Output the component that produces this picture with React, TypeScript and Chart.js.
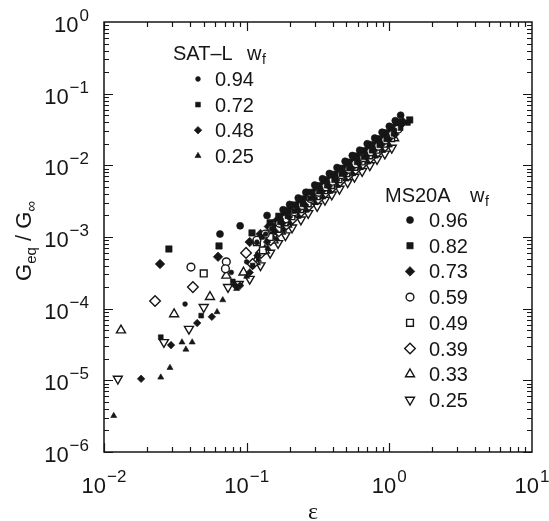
import React, { useEffect, useRef } from "react";
import { Chart, registerables } from "chart.js";
import { drawPoint } from "chart.js/helpers";

Chart.register(...registerables);

type P = [number, number];

// ---- SAT-L series (x = strain, y = Geq/Ginf) ----
const satL094: P[] = [
  [0.037, 1.16e-4], [0.078, 3.2e-4], [0.1, 4.5e-4], [0.118, 8.5e-4], [0.136, 1.1e-3],
  [0.155, 1.45e-3], [0.175, 1.75e-3], [0.195, 2.05e-3], [0.225, 2.6e-3], [0.25, 3.1e-3],
  [0.29, 3.9e-3], [0.33, 4.8e-3], [0.37, 5.8e-3], [0.42, 6.9e-3], [0.47, 8.4e-3],
  [0.53, 1.0e-2], [0.6, 1.2e-2], [0.68, 1.45e-2], [0.77, 1.75e-2], [0.86, 2.1e-2],
  [0.97, 2.55e-2], [1.09, 3.1e-2], [1.22, 3.7e-2],
];
const satL072: P[] = [
  [0.025, 4.0e-5], [0.048, 8.0e-5], [0.08, 2.4e-4], [0.11, 4.0e-4], [0.128, 1.0e-3],
  [0.15, 1.3e-3], [0.171, 1.6e-3], [0.193, 1.95e-3], [0.214, 2.3e-3], [0.246, 2.85e-3],
  [0.278, 3.45e-3], [0.32, 4.3e-3], [0.364, 5.2e-3], [0.41, 6.2e-3], [0.46, 7.5e-3],
  [0.52, 9.0e-3], [0.59, 1.1e-2], [0.66, 1.3e-2], [0.75, 1.6e-2], [0.85, 1.9e-2],
  [0.95, 2.3e-2], [1.07, 2.75e-2], [1.2, 3.3e-2], [1.35, 3.9e-2],
];
const satL048: P[] = [
  [0.0182, 1.05e-5], [0.0295, 3.1e-5], [0.045, 6.3e-5], [0.057, 7.7e-5], [0.083, 2.1e-4],
  [0.09, 2.1e-4], [0.105, 3.2e-4], [0.119, 5.5e-4], [0.139, 8.5e-4], [0.158, 1.2e-3],
  [0.178, 1.55e-3], [0.198, 1.9e-3], [0.228, 2.35e-3], [0.257, 2.8e-3], [0.297, 3.5e-3],
  [0.337, 4.3e-3], [0.376, 5.1e-3], [0.426, 6.2e-3], [0.485, 7.6e-3], [0.545, 9.1e-3],
  [0.61, 1.08e-2], [0.69, 1.32e-2], [0.78, 1.6e-2], [0.88, 1.93e-2], [0.99, 2.3e-2],
  [1.1, 2.7e-2],
];
const satL025: P[] = [
  [0.0117, 3.2e-6], [0.025, 1.1e-5], [0.029, 1.5e-5], [0.0352, 3.4e-5], [0.0375, 2.7e-5],
  [0.0415, 3.4e-5], [0.062, 9.0e-5], [0.068, 1.32e-4], [0.085, 1.9e-4], [0.1, 2.8e-4],
  [0.121, 4.8e-4], [0.141, 7.0e-4], [0.162, 9.5e-4], [0.182, 1.25e-3], [0.202, 1.55e-3],
  [0.232, 1.95e-3], [0.263, 2.37e-3], [0.303, 3.0e-3], [0.343, 3.6e-3], [0.384, 4.3e-3],
  [0.434, 5.2e-3], [0.495, 6.4e-3], [0.555, 7.6e-3], [0.626, 9.2e-3], [0.707, 1.11e-2],
  [0.8, 1.34e-2], [0.9, 1.6e-2], [1.0, 1.9e-2],
];

// ---- MS20A series ----
const ms096: P[] = [
  [0.065, 1.1e-3], [0.09, 1.43e-3], [0.139, 2.0e-3], [0.18, 2.4e-3], [0.2, 2.85e-3],
  [0.23, 3.5e-3], [0.26, 4.2e-3], [0.3, 5.3e-3], [0.34, 6.5e-3], [0.38, 7.7e-3],
  [0.43, 9.3e-3], [0.49, 1.14e-2], [0.55, 1.37e-2], [0.62, 1.63e-2], [0.7, 2.0e-2],
  [0.79, 2.4e-2], [0.89, 2.9e-2], [1.0, 3.5e-2], [1.1, 4.2e-2], [1.2, 5.0e-2],
];
const ms082: P[] = [
  [0.0285, 6.8e-4], [0.064, 7.5e-4], [0.109, 1.14e-3], [0.146, 1.58e-3], [0.168, 1.95e-3],
  [0.19, 2.35e-3], [0.215, 2.8e-3], [0.24, 3.4e-3], [0.275, 4.2e-3], [0.315, 5.2e-3],
  [0.355, 6.3e-3], [0.4, 7.5e-3], [0.45, 9.1e-3], [0.51, 1.11e-2], [0.58, 1.35e-2],
  [0.65, 1.6e-2], [0.74, 1.95e-2], [0.83, 2.35e-2], [0.94, 2.85e-2], [1.05, 3.4e-2],
  [1.18, 4.0e-2], [1.39, 4.3e-2],
];
const ms073: P[] = [
  [0.0247, 4.2e-4], [0.063, 5.3e-4], [0.105, 8.5e-4], [0.125, 1.1e-3], [0.143, 1.4e-3],
  [0.163, 1.7e-3], [0.184, 2.05e-3], [0.204, 2.4e-3], [0.235, 3.0e-3], [0.265, 3.6e-3],
  [0.306, 4.5e-3], [0.347, 5.5e-3], [0.388, 6.5e-3], [0.44, 7.9e-3], [0.5, 9.6e-3],
  [0.56, 1.15e-2], [0.63, 1.38e-2], [0.71, 1.68e-2], [0.81, 2.0e-2], [0.91, 2.4e-2],
  [1.02, 2.9e-2], [1.14, 3.5e-2], [1.25, 4.0e-2],
];
const ms059: P[] = [
  [0.0407, 3.8e-4], [0.072, 4.5e-4], [0.071, 3.6e-4], [0.118, 9.0e-4], [0.135, 1.1e-3],
  [0.15, 1.3e-3], [0.17, 1.55e-3], [0.188, 1.8e-3], [0.216, 2.25e-3], [0.245, 2.75e-3],
  [0.28, 3.45e-3], [0.32, 4.2e-3], [0.357, 5.0e-3], [0.4, 6.0e-3], [0.46, 7.4e-3],
  [0.52, 8.8e-3], [0.58, 1.05e-2], [0.66, 1.28e-2], [0.74, 1.55e-2], [0.84, 1.85e-2],
  [0.94, 2.25e-2], [1.05, 2.7e-2], [1.15, 3.2e-2],
];
const ms049: P[] = [
  [0.05, 3.1e-4], [0.118, 8.5e-4], [0.13, 6.5e-4], [0.145, 1.0e-3], [0.165, 1.3e-3],
  [0.185, 1.6e-3], [0.206, 1.95e-3], [0.237, 2.45e-3], [0.268, 2.95e-3], [0.31, 3.7e-3],
  [0.35, 4.5e-3], [0.39, 5.3e-3], [0.44, 6.4e-3], [0.5, 7.8e-3], [0.57, 9.5e-3],
  [0.64, 1.13e-2], [0.72, 1.38e-2], [0.81, 1.65e-2], [0.92, 2.0e-2], [1.03, 2.4e-2],
];
const ms039: P[] = [
  [0.0228, 1.28e-4], [0.042, 2.0e-4], [0.099, 6.0e-4], [0.11, 4.2e-4], [0.126, 6.0e-4],
  [0.147, 9.0e-4], [0.168, 1.2e-3], [0.19, 1.5e-3], [0.21, 1.8e-3], [0.24, 2.25e-3],
  [0.273, 2.75e-3], [0.315, 3.4e-3], [0.357, 4.2e-3], [0.4, 5.0e-3], [0.45, 6.0e-3],
  [0.515, 7.3e-3], [0.58, 8.8e-3], [0.65, 1.05e-2], [0.735, 1.28e-2], [0.83, 1.55e-2],
  [0.93, 1.85e-2],
];
const ms033: P[] = [
  [0.01315, 5.0e-5], [0.031, 8.4e-5], [0.0553, 1.46e-4], [0.072, 2.9e-4], [0.095, 3.2e-4],
  [0.115, 4.5e-4], [0.134, 6.5e-4], [0.154, 9.0e-4], [0.173, 1.2e-3], [0.192, 1.5e-3],
  [0.22, 2.0e-3], [0.25, 2.45e-3], [0.288, 3.1e-3], [0.326, 3.8e-3], [0.365, 4.5e-3],
  [0.41, 5.4e-3], [0.47, 6.7e-3], [0.53, 8.0e-3], [0.6, 9.6e-3], [0.67, 1.15e-2],
  [0.76, 1.4e-2], [0.85, 1.68e-2], [0.96, 2.0e-2], [1.08, 2.4e-2],
];
const ms025: P[] = [
  [0.0125, 1.05e-5], [0.0263, 3.4e-5], [0.0394, 5.2e-5], [0.05, 1.05e-4], [0.074, 2.0e-4],
  [0.088, 2.2e-4], [0.105, 2.6e-4], [0.125, 4.0e-4], [0.146, 6.0e-4], [0.166, 8.2e-4],
  [0.187, 1.05e-3], [0.208, 1.35e-3], [0.24, 1.75e-3], [0.27, 2.15e-3], [0.312, 2.7e-3],
  [0.354, 3.3e-3], [0.395, 3.9e-3], [0.447, 4.7e-3], [0.51, 5.8e-3], [0.57, 6.9e-3],
  [0.645, 8.3e-3], [0.73, 1.0e-2], [0.82, 1.22e-2], [0.93, 1.45e-2], [1.04, 1.75e-2],
];

// ---- labels ----
const satLabels = ["0.94", "0.72", "0.48", "0.25"];
const msLabels = ["0.96", "0.82", "0.73", "0.59", "0.49", "0.39", "0.33", "0.25"];
const xTickExponents = [-2, -1, 0, 1];
const yTickExponents = [0, -1, -2, -3, -4, -5, -6];

const INK = "#161616";
const FONT = '"Liberation Sans", Arial, Helvetica, sans-serif';

type Style = { pointStyle: string; radius: number; rotation?: number; filled: boolean };

const satStyles: Style[] = [
  { pointStyle: "circle", radius: 2.4, filled: true },
  { pointStyle: "rect", radius: 3.4, filled: true },
  { pointStyle: "rectRot", radius: 3.8, filled: true },
  { pointStyle: "triangle", radius: 3.5, filled: true },
];
const msStyles: Style[] = [
  { pointStyle: "circle", radius: 3.5, filled: true },
  { pointStyle: "rect", radius: 4.5, filled: true },
  { pointStyle: "rectRot", radius: 4.8, filled: true },
  { pointStyle: "circle", radius: 3.9, filled: false },
  { pointStyle: "rect", radius: 4.8, filled: false },
  { pointStyle: "rectRot", radius: 5.3, filled: false },
  { pointStyle: "triangle", radius: 5.2, filled: false },
  { pointStyle: "triangle", radius: 5.2, rotation: 180, filled: false },
];

const satData = [satL094, satL072, satL048, satL025];
const msData = [ms096, ms082, ms073, ms059, ms049, ms039, ms033, ms025];

function makeDataset(label: string, pts: P[], st: Style) {
  return {
    label,
    data: pts.map(([x, y]) => ({ x, y })),
    pointStyle: st.pointStyle,
    pointRadius: st.radius,
    pointRotation: st.rotation || 0,
    pointBackgroundColor: st.filled ? INK : "#ffffff",
    pointBorderColor: INK,
    pointBorderWidth: st.filled ? 0.6 : 1.4,
    showLine: false,
  };
}

function drawMarker(ctx: CanvasRenderingContext2D, st: Style, x: number, y: number) {
  ctx.save();
  ctx.fillStyle = st.filled ? INK : "#ffffff";
  ctx.strokeStyle = INK;
  ctx.lineWidth = st.filled ? 0.6 : 1.4;
  drawPoint(ctx, {
    pointStyle: st.pointStyle as any,
    radius: st.radius,
    rotation: st.rotation || 0,
    borderWidth: st.filled ? 0.6 : 1.4,
  } as any, x, y);
  ctx.restore();
}

function expText(e: number) {
  return String(e).replace("-", "\u2212");
}

const decorPlugin = {
  id: "decor",
  afterDraw(chart: any) {
    const ctx: CanvasRenderingContext2D = chart.ctx;
    const xs = chart.scales.x;
    const ys = chart.scales.y;
    const { left, right, top, bottom } = chart.chartArea;
    ctx.save();
    ctx.strokeStyle = INK;
    ctx.fillStyle = INK;

    // inward ticks on all four sides
    ctx.lineWidth = 1.2;
    ctx.beginPath();
    for (let e = -2; e <= 0; e++) {
      for (let m = 1; m <= 9; m++) {
        const v = m * Math.pow(10, e);
        const px = Math.round(xs.getPixelForValue(v)) + 0.5;
        const len = m === 1 ? 9 : 5;
        ctx.moveTo(px, bottom);
        ctx.lineTo(px, bottom - len);
        ctx.moveTo(px, top);
        ctx.lineTo(px, top + len);
      }
    }
    for (let e = -6; e <= -1; e++) {
      for (let m = 1; m <= 9; m++) {
        const v = m * Math.pow(10, e);
        const py = Math.round(ys.getPixelForValue(v)) + 0.5;
        const len = m === 1 ? 9 : 5;
        ctx.moveTo(left, py);
        ctx.lineTo(left + len, py);
        ctx.moveTo(right, py);
        ctx.lineTo(right - len, py);
      }
    }
    ctx.stroke();

    // frame
    ctx.lineWidth = 1.5;
    ctx.strokeRect(left, top, right - left, bottom - top);

    // tick labels
    const mainF = "22px " + FONT;
    const supF = "17px " + FONT;
    ctx.textBaseline = "alphabetic";
    ctx.textAlign = "left";
    for (const e of yTickExponents) {
      const py = ys.getPixelForValue(Math.pow(10, e));
      ctx.font = mainF;
      const w1 = ctx.measureText("10").width;
      ctx.font = supF;
      const s = expText(e);
      const w2 = ctx.measureText(s).width;
      const x0 = 89 - (w1 + w2 + 1);
      ctx.font = mainF;
      ctx.fillText("10", x0, py + 10);
      ctx.font = supF;
      ctx.fillText(s, x0 + w1 + 1, py - 1);
    }
    for (const e of xTickExponents) {
      const px = xs.getPixelForValue(Math.pow(10, e));
      ctx.font = mainF;
      const w1 = ctx.measureText("10").width;
      ctx.font = supF;
      const s = expText(e);
      const w2 = ctx.measureText(s).width;
      const x0 = px - (w1 + w2 + 1) / 2;
      ctx.font = mainF;
      ctx.fillText("10", x0, 493);
      ctx.font = supF;
      ctx.fillText(s, x0 + w1 + 1, 482);
    }

    // x title
    ctx.font = '24px "Liberation Serif", "DejaVu Serif", serif';
    ctx.textAlign = "center";
    ctx.fillText("\u03B5", 313, 519);

    // y title (rotated)
    ctx.save();
    ctx.translate(31, 241);
    ctx.rotate(-Math.PI / 2);
    const parts: { t: string; f: string; dy: number }[] = [
      { t: "G", f: "22px " + FONT, dy: 0 },
      { t: "eq", f: "15px " + FONT, dy: 5 },
      { t: " / ", f: "22px " + FONT, dy: 0 },
      { t: "G", f: "22px " + FONT, dy: 0 },
      { t: "\u221E", f: "15px " + FONT, dy: 5 },
    ];
    let total = 0;
    for (const p of parts) {
      ctx.font = p.f;
      total += ctx.measureText(p.t).width;
    }
    let cx = -total / 2;
    ctx.textAlign = "left";
    for (const p of parts) {
      ctx.font = p.f;
      ctx.fillText(p.t, cx, p.dy);
      cx += ctx.measureText(p.t).width;
    }
    ctx.restore();

    // legends
    const legF = "20px " + FONT;
    const subF = "14px " + FONT;
    const header = (name: string, x: number, wx: number, base: number) => {
      ctx.textAlign = "left";
      ctx.font = legF;
      ctx.fillText(name, x, base);
      ctx.fillText("w", wx, base);
      const ww = ctx.measureText("w").width;
      ctx.font = subF;
      ctx.fillText("f", wx + ww + 0.5, base + 4);
    };
    header("SAT\u2013L", 173, 247, 60);
    satLabels.forEach((lab, i) => {
      const cy = 79 + 25.6 * i;
      drawMarker(ctx, satStyles[i], 198, cy);
      ctx.font = legF;
      ctx.textAlign = "left";
      ctx.fillText(lab, 215, cy + 7);
    });
    header("MS20A", 385, 470, 202);
    msLabels.forEach((lab, i) => {
      const cy = 220 + 25.7 * i;
      drawMarker(ctx, msStyles[i], 410, cy);
      ctx.font = legF;
      ctx.textAlign = "left";
      ctx.fillText(lab, 429, cy + 7);
    });

    ctx.restore();
  },
};

export default function App() {
  const ref = useRef<HTMLCanvasElement | null>(null);
  useEffect(() => {
    if (!ref.current) return;
    const datasets = [
      ...satData.map((d, i) => makeDataset("SAT-L " + satLabels[i], d, satStyles[i])),
      ...msData.slice(3).map((d, i) => makeDataset("MS20A " + msLabels[i + 3], d, msStyles[i + 3])),
      ...msData.slice(0, 3).map((d, i) => makeDataset("MS20A " + msLabels[i], d, msStyles[i])),
    ];
    const chart = new Chart(ref.current, {
      type: "scatter",
      data: { datasets: datasets as any },
      options: {
        animation: false,
        responsive: false,
        maintainAspectRatio: false,
        devicePixelRatio: 1,
        layout: { padding: { top: 22, right: 17, left: 0, bottom: 0 } },
        plugins: { legend: { display: false }, tooltip: { enabled: false } },
        scales: {
          x: {
            type: "logarithmic",
            min: 0.01,
            max: 10,
            ticks: { display: false },
            grid: { display: false },
            border: { display: false },
            afterFit: (s: any) => { s.height = 69; },
          },
          y: {
            type: "logarithmic",
            min: 1e-6,
            max: 1,
            ticks: { display: false },
            grid: { display: false },
            border: { display: false },
            afterFit: (s: any) => { s.width = 104; },
          },
        },
      } as any,
      plugins: [decorPlugin],
    });
    return () => chart.destroy();
  }, []);
  return (
    <div style={{ position: "absolute", left: 0, top: 0, width: 549, height: 521, background: "#fff" }}>
      <canvas ref={ref} width={549} height={521} style={{ width: 549, height: 521, display: "block" }} />
    </div>
  );
}
